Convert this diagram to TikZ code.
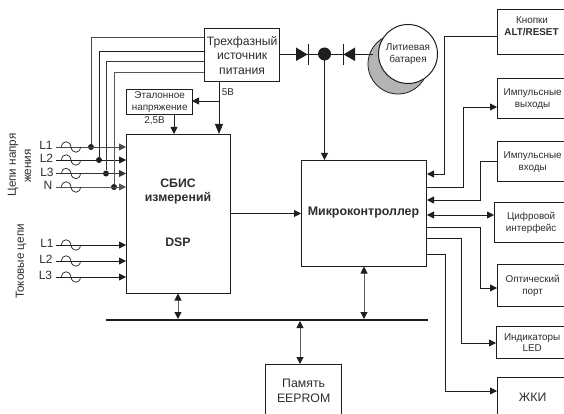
\documentclass[tikz,border=0pt]{standalone}
\usepackage{fontspec}
\setmainfont{Liberation Sans}
\usetikzlibrary{arrows.meta}
\definecolor{ink}{HTML}{1E1E1E}
\definecolor{txt}{HTML}{2E2E2E}
\definecolor{batt}{HTML}{B4B4B4}
\tikzset{
  blockbox/.style={draw=ink,line width=1.3pt,fill=white,rectangle,inner sep=0pt,anchor=north west,align=center,text=txt},
  wire/.style={draw=ink,line width=.85pt},
  greywire/.style={draw=ink!70,line width=1pt},
  arr/.style={wire,-{Triangle[length=7pt,width=7pt]}},
  barr/.style={greywire,{Triangle[length=7pt,width=7pt,color=ink]}-{Triangle[length=7pt,width=7pt,color=ink]}},
  lbl/.style={text=txt,inner sep=0pt,align=center},
  jdot/.style={circle,fill=ink,inner sep=0pt,minimum size=6pt},
  coil/.pic={\draw[ink,line width=.7pt] (-9.5,0) .. controls (-9,-7) and (-1,-7) .. (0,0) .. controls (1,7) and (9,7) .. (9.5,0);}
}
\newcommand{\fs}[1]{\fontsize{#1}{#1}\selectfont}
\begin{document}
\begin{tikzpicture}[x=1pt,y=-1pt]
\useasboundingbox (0,0) rectangle (564,414);
% boxes
\node[blockbox,minimum width=75pt,minimum height=53pt,font=\fs{12.2}] (pow) at (204,28) {Трехфазный\\[2.2pt]источник\\[2.2pt]питания};
\node[blockbox,minimum width=66pt,minimum height=25pt,font=\fs{9.9}] (ref) at (126,89) {Эталонное\\[1.5pt]напряжение};
\node[blockbox,minimum width=104pt,minimum height=159pt] (dsp) at (126,134) {};
\node[blockbox,minimum width=125pt,minimum height=106pt] (mcu) at (301,160) {};
\node[lbl,font=\fs{12.3}\bfseries] (dspa) at (178,183.5) {СБИС};
\node[lbl,font=\fs{12.3}\bfseries] (dspb) at (178,198.5) {измерений};
\node[lbl,font=\fs{12.3}\bfseries] (dspc) at (178,242.5) {DSP};
\node[lbl,font=\fs{12.4}\bfseries] (mcut) at (363.5,213) {Микроконтроллер};
\node[blockbox,minimum width=76pt,minimum height=53pt,font=\fs{12.3}] (mem) at (265,364) {Память\\[2.7pt]EEPROM};
\node[blockbox,minimum width=70pt,minimum height=45pt] (btn) at (497,9) {};
\node[lbl,font=\fs{9.9}] (btna) at (532,20) {Кнопки};
\node[lbl,font=\fs{9.9}\bfseries] (btnb) at (531.5,32) {ALT/RESET};
\node[blockbox,minimum width=70pt,minimum height=40pt,font=\fs{9.9}] (pout) at (497,78) {Импульсные\\[2.1pt]выходы};
\node[blockbox,minimum width=70pt,minimum height=40pt,font=\fs{9.9}] (pin) at (497,141) {Импульсные\\[2.1pt]входы};
\node[blockbox,minimum width=73pt,minimum height=40pt,font=\fs{9.9}] (dig) at (494,202) {Цифровой\\[1.6pt]интерфейс};
\node[blockbox,minimum width=70pt,minimum height=42pt,font=\fs{9.9}] (opt) at (497,264) {Оптический\\[2.1pt]порт};
\node[blockbox,minimum width=71pt,minimum height=32pt,font=\fs{9.9}] (led) at (496,326) {Индикаторы\\[1.1pt]LED};
\node[blockbox,minimum width=70pt,minimum height=40pt,font=\fs{12.3}] (lcd) at (497,377) {ЖКИ};
% feeds
\foreach \n/\yy/\xx/\py/\lab/\lx/\lc in {a/147/91/37/L1/46/ink!80,b/160/99/51/L2/46.5/ink,c/173.5/106/61/L3/47/ink!90,d/187/114/72/N/48/ink!75}{
  \coordinate (s\n) at (56,\yy);
  \coordinate (e\n) at (dsp.west |- 0,\yy);
  \node[jdot] (j\n) at (\xx,\yy) {};
  \coordinate (p\n) at (pow.west |- 0,\py);
  \node[lbl,font=\fs{12}] (t\n) at (\lx,\yy-1.5) {\lab};
  \draw[arr,draw=\lc] (s\n) -- (e\n);
  \pic at (71,\yy) {coil};
  \draw[wire,draw=\lc] (p\n) -| (j\n);
}
\foreach \n/\yy/\lab/\lx in {e/245/L1/47,f/261/L2/46,g/277/L3/45.5}{
  \coordinate (s\n) at (56,\yy);
  \coordinate (e\n) at (dsp.west |- 0,\yy);
  \node[lbl,font=\fs{12}] (t\n) at (\lx,\yy-1.5) {\lab};
  \draw[arr] (s\n) -- (e\n);
  \pic at (71,\yy) {coil};
}
% 5V
\coordinate (v5) at (219,81);
\coordinate (v5b) at (219,134);
\coordinate (v5r) at (192,101);
\coordinate (v5j) at (219,101);
\draw[wire,-{Triangle[length=10pt,width=8pt]}] (v5) -- (v5b);
\draw[arr] (v5j) -- (v5r);
\node[lbl,font=\fs{9.9}] (l5) at (228,92.5) {5В};
\coordinate (r25) at (174,114);
\coordinate (d25) at (174,134);
\draw[arr] (r25) -- (d25);
\node[lbl,font=\fs{9.9}] (l25) at (154.5,121) {2,5В};
\draw[arr] (dsp.east |- 0,213.5) -- (mcu.west |- 0,213.5);
% bus
\coordinate (bl) at (106,320);
\coordinate (br) at (428,320);
\draw[ink,line width=2.4pt] (bl) -- (br);
\draw[barr] (178,293.5) -- (178,319);
\draw[barr] (364,266.5) -- (364,319);
\draw[barr] (300,321) -- (300,364);
% battery
\fill[batt,draw=ink,line width=.8pt] (398,64) circle (30);
\node[circle,draw=ink,line width=1pt,fill=white,minimum size=59pt,inner sep=0pt,font=\fs{10},text=txt,align=center] (bat) at (408,54) {Литиевая\\[2pt]батарея};
% diodes
\node[circle,fill=ink,inner sep=0pt,minimum size=13pt] (hub) at (324.5,54) {};
\draw[wire] (pow.east |- 0,54) -- (hub.center);
\draw[wire] (hub.center) -- (373,54);
\fill[ink] (296,47.5) -- (307.5,54.5) -- (296,61) -- cycle;
\draw[ink,line width=1pt] (308,44) -- (308,65);
\fill[ink] (355,47.5) -- (343.5,54.5) -- (355,61) -- cycle;
\draw[ink,line width=1pt] (343.5,44) -- (343.5,65);
\coordinate (hubin) at (hub.center |- mcu.north);
\draw[arr] (hub.center) -- (hubin);
% right connectors
\draw[arr] (btn.west |- 0,36) -- (444,36) -- (444,174) -- (427,174);
\draw[arr] (427,187) -- (463,187) -- (463,107) -- (497,107);
\draw[arr] (pin.west |- 0,161) -- (480,161) -- (480,200) -- (427,200);
\draw[wire,{Triangle[length=7pt,width=7pt]}-{Triangle[length=7pt,width=7pt]}] (427,215) -- (494,215);
\draw[arr] (427,227) -- (480,227) -- (480,288) -- (497,288);
\draw[arr] (427,238) -- (461,238) -- (461,343) -- (496,343);
\draw[arr] (427,254) -- (445,254) -- (445,391) -- (497,391);
% side labels
\node[lbl,rotate=90,font=\fs{11.7}] (s1) at (13,165) {Цепи напря};
\node[lbl,rotate=90,font=\fs{11.7}] (s2) at (28,166) {жения};
\node[lbl,rotate=90,font=\fs{11.7}] (s3) at (21,261.5) {Токовые цепи};
\end{tikzpicture}
\end{document}
